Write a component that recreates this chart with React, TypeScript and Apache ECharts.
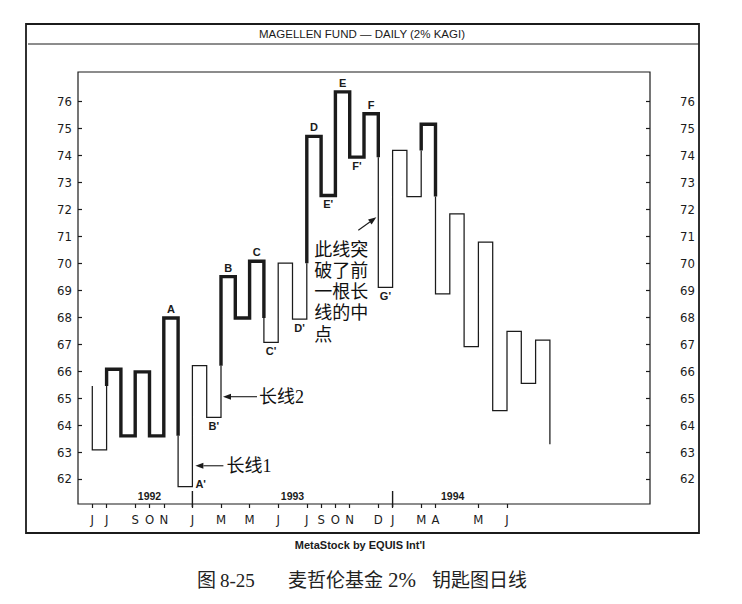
import React, { useEffect, useRef } from "react";
import * as echarts from "echarts";

// ---------- data ----------
const startPrice = 65.45;
const turnPrices = [
  63.08, 66.07, 63.6, 65.97, 63.6, 67.97, 61.72, 66.2, 64.28, 69.5, 67.97,
  70.07, 67.06, 70.0, 67.93, 74.7, 72.51, 76.35, 73.93, 75.54, 69.1, 74.18,
  72.47, 75.15, 68.86, 71.83, 66.91, 70.78, 64.53, 67.47, 65.54, 67.15, 63.29,
];

const pointLabels = ["A", "A'", "B'", "B", "C", "C'", "D'", "D", "E'", "E", "F'", "F", "G'"];
const pointLabelTurns = [5, 6, 8, 9, 11, 12, 14, 15, 16, 17, 18, 19, 20];

const monthLabels = ["J", "J", "S", "O", "N", "J", "M", "M", "J", "J", "S", "O", "N", "D", "J", "M", "A", "M", "J"];
const monthSlots = [0, 1, 3, 4, 5, 7, 9, 11, 13, 15, 16, 17, 18, 20, 21, 23, 24, 27, 29];

const yearLabels = ["1992", "1993", "1994"];
const yearSlots = [4.0, 14.0, 25.2];
const yearDividerSlots = [7, 21];

const priceTicks = [62, 63, 64, 65, 66, 67, 68, 69, 70, 71, 72, 73, 74, 75, 76];

const annotationTexts = ["长线1", "长线2", "此线突\n破了前\n一根长\n线的中\n点"];
const annotationLines = [7, 9, 20];
const annotationPrices = [62.49, 65.05, 71.7];

const titleText = "MAGELLEN FUND — DAILY (2% KAGI)";
const sourceText = "MetaStock by EQUIS Int'l";
const captionParts = ["图", "8-25", "麦哲伦基金", "2%", "钥匙图日线"];

// ---------- style constants ----------
const INK = "#1b1b1b";
const Y_MIN = 61.073;
const Y_MAX = 77.086;
const X_MIN = -1;
const X_MAX = 39;
const NARROW = "'DejaVu Sans Condensed', 'Liberation Sans Narrow', 'DejaVu Sans', sans-serif";
const SANS = "'Liberation Sans', Arial, sans-serif";
const CJK = "'Liberation Serif', 'Noto Sans CJK SC', serif";

type Run = { thick: boolean; pts: number[][] };

function buildKagiRuns(start: number, turns: number[]): Run[] {
  const segs: { a: number[]; b: number[]; thick: boolean }[] = [];
  let thick = false;
  let prev = start;
  for (let i = 0; i < turns.length; i++) {
    const p = turns[i];
    if (i > 0) segs.push({ a: [i - 1, prev], b: [i, prev], thick });
    const ref = i >= 2 ? turns[i - 2] : i === 1 ? start : null;
    const up = p > prev;
    if (ref !== null && up && !thick && p > ref) {
      if (ref > prev) segs.push({ a: [i, prev], b: [i, ref], thick: false });
      segs.push({ a: [i, Math.max(ref, prev)], b: [i, p], thick: true });
      thick = true;
    } else if (ref !== null && !up && thick && p < ref) {
      if (ref < prev) segs.push({ a: [i, prev], b: [i, ref], thick: true });
      segs.push({ a: [i, Math.min(ref, prev)], b: [i, p], thick: false });
      thick = false;
    } else {
      segs.push({ a: [i, prev], b: [i, p], thick });
    }
    prev = p;
  }
  const runs: Run[] = [];
  for (const s of segs) {
    const last = runs[runs.length - 1];
    if (last && last.thick === s.thick) last.pts.push(s.b);
    else runs.push({ thick: s.thick, pts: [s.a, s.b] });
  }
  return runs;
}

const annotationLayout = [
  { tipDx: 3, tailDx: 28, tailDy: 0, textDx: 31, textDy: 0, lines: 1 },
  { tipDx: 2, tailDx: 34, tailDy: 0, textDx: 36, textDy: 0, lines: 1 },
  { tipDx: -2, tailDx: -18, tailDy: 13, textDx: -62, textDy: 22, lines: 5 },
];

export default function App() {
  const ref = useRef<HTMLDivElement>(null);

  useEffect(() => {
    if (!ref.current) return;
    const chart = echarts.init(ref.current, undefined, { renderer: "svg" });
    const runs = buildKagiRuns(startPrice, turnPrices);

    const yAxisBase = (position: string, margin: number) => ({
      type: "value",
      position,
      min: Y_MIN,
      max: Y_MAX,
      axisLine: { show: false, onZero: false },
      splitLine: { show: false },
      axisTick: {
        show: true,
        inside: true,
        length: 4,
        customValues: priceTicks,
        lineStyle: { color: INK, width: 1.2 },
      },
      axisLabel: {
        customValues: priceTicks,
        margin,
        fontFamily: NARROW,
        fontSize: 13,
        color: INK,
      },
    });

    const option: any = {
      animation: false,
      backgroundColor: "#ffffff",
      grid: {
        left: 78,
        top: 72,
        width: 572,
        height: 432,
        show: true,
        borderColor: INK,
        borderWidth: 1.2,
        containLabel: false,
        outerBoundsMode: "none",
      },
      xAxis: {
        type: "value",
        min: X_MIN,
        max: X_MAX,
        axisLine: { show: false, onZero: false },
        splitLine: { show: false },
        axisTick: {
          show: true,
          customValues: monthSlots,
          length: 4,
          lineStyle: { color: INK, width: 1.2 },
        },
        axisLabel: {
          customValues: monthSlots,
          formatter: (v: number) => monthLabels[monthSlots.indexOf(v)] ?? "",
          margin: 9,
          fontFamily: NARROW,
          fontSize: 13,
          color: INK,
        },
      },
      yAxis: [yAxisBase("left", 6), yAxisBase("right", 30)],
      series: [
        {
          type: "custom",
          name: "kagi",
          coordinateSystem: "cartesian2d",
          xAxisIndex: 0,
          yAxisIndex: 0,
          silent: true,
          z: 3,
          data: runs.map((r) => [r.pts[0][0], r.pts[0][1]]),
          encode: { x: 0, y: 1 },
          renderItem: (params: any, api: any) => {
            const run = runs[params.dataIndex];
            return {
              type: "polyline",
              shape: { points: run.pts.map((p) => api.coord(p)) },
              style: {
                stroke: INK,
                fill: "none",
                lineWidth: run.thick ? 3.4 : 1.25,
                lineJoin: "miter",
              },
            };
          },
        },
        {
          type: "custom",
          name: "pointLabels",
          coordinateSystem: "cartesian2d",
          silent: true,
          z: 4,
          data: pointLabelTurns.map((t) => [t, turnPrices[t]]),
          encode: { x: 0, y: 1 },
          renderItem: (params: any, api: any) => {
            const k = params.dataIndex;
            const t = pointLabelTurns[k];
            const p = turnPrices[t];
            const prev = t > 0 ? turnPrices[t - 1] : startPrice;
            const isPeak = p > prev;
            const baseStyle = {
              text: pointLabels[k],
              fill: INK,
              fontSize: 11,
              fontWeight: "bold",
              fontFamily: SANS,
            };
            if (!isPeak && p - Y_MIN < 1) {
              const c = api.coord([t + 1, p]);
              return {
                type: "text",
                x: c[0] + 3,
                y: c[1] - 3,
                style: { ...baseStyle, align: "left", verticalAlign: "middle" },
              };
            }
            const c = api.coord([t + 0.5, p]);
            return {
              type: "text",
              x: c[0],
              y: c[1] + (isPeak ? -9 : 9),
              style: { ...baseStyle, align: "center", verticalAlign: "middle" },
            };
          },
        },
        {
          type: "custom",
          name: "years",
          coordinateSystem: "cartesian2d",
          silent: true,
          z: 4,
          data: yearSlots.map((s) => [s, Y_MIN]),
          encode: { x: 0, y: 1 },
          renderItem: (params: any, api: any) => {
            const k = params.dataIndex;
            const c = api.coord([yearSlots[k], Y_MIN]);
            const children: any[] = [
              {
                type: "text",
                x: c[0],
                y: c[1] - 8,
                style: {
                  text: yearLabels[k],
                  fill: INK,
                  fontSize: 10.5,
                  fontWeight: "bold",
                  fontFamily: SANS,
                  align: "center",
                  verticalAlign: "middle",
                },
              },
            ];
            if (k < yearDividerSlots.length) {
              const d = api.coord([yearDividerSlots[k], Y_MIN]);
              children.push({
                type: "line",
                shape: { x1: d[0], y1: d[1] - 13, x2: d[0], y2: d[1] + 3 },
                style: { stroke: INK, lineWidth: 1.4 },
              });
            }
            return { type: "group", children };
          },
        },
        {
          type: "custom",
          name: "annotations",
          coordinateSystem: "cartesian2d",
          silent: true,
          z: 5,
          data: annotationLines.map((l, i) => [l, annotationPrices[i]]),
          encode: { x: 0, y: 1 },
          renderItem: (params: any, api: any) => {
            const k = params.dataIndex;
            const L = annotationLayout[k];
            const c = api.coord([annotationLines[k], annotationPrices[k]]);
            const tip = [c[0] + L.tipDx, c[1]];
            const tail = [tip[0] + L.tailDx, tip[1] + L.tailDy];
            const dx = tip[0] - tail[0];
            const dy = tip[1] - tail[1];
            const len = Math.sqrt(dx * dx + dy * dy);
            const ux = dx / len;
            const uy = dy / len;
            const hl = 8;
            const hw = 3;
            const bx = tip[0] - ux * hl;
            const by = tip[1] - uy * hl;
            const lineH = 21.2;
            return {
              type: "group",
              children: [
                {
                  type: "line",
                  shape: { x1: tail[0], y1: tail[1], x2: bx, y2: by },
                  style: { stroke: INK, lineWidth: 1.1 },
                },
                {
                  type: "polygon",
                  shape: {
                    points: [
                      tip,
                      [bx - uy * hw, by + ux * hw],
                      [bx + uy * hw, by - ux * hw],
                    ],
                  },
                  style: { fill: INK, stroke: "none" },
                },
                {
                  type: "text",
                  x: tip[0] + L.textDx,
                  y: L.lines > 1 ? tip[1] + L.textDy : tip[1],
                  style: {
                    text: annotationTexts[k],
                    fill: "#111",
                    fontSize: 18,
                    fontFamily: CJK,
                    lineHeight: lineH,
                    align: "left",
                    verticalAlign: L.lines > 1 ? "top" : "middle",
                  },
                },
              ],
            };
          },
        },
      ],
      graphic: [
        {
          type: "rect",
          shape: { x: 26, y: 24, width: 673, height: 509 },
          style: { fill: "none", stroke: INK, lineWidth: 1.8 },
          silent: true,
        },
        {
          type: "line",
          shape: { x1: 28, y1: 44, x2: 699, y2: 44 },
          style: { stroke: INK, lineWidth: 1 },
          silent: true,
        },
        {
          type: "text",
          x: 362,
          y: 34,
          style: {
            text: titleText,
            fill: INK,
            fontSize: 11.5,
            fontFamily: SANS,
            align: "center",
            verticalAlign: "middle",
          },
        },
        {
          type: "text",
          x: 360,
          y: 545,
          style: {
            text: sourceText,
            fill: INK,
            fontSize: 11,
            fontWeight: "bold",
            fontFamily: SANS,
            align: "center",
            verticalAlign: "middle",
          },
        },
        ...[197, 220, 288, 388, 432].map((x, i) => ({
          type: "text",
          x,
          y: 580,
          style: {
            text: captionParts[i],
            fill: "#222",
            fontSize: i === 3 ? 21 : 19,
            fontFamily: CJK,
            align: "left",
            verticalAlign: "middle",
          },
        })),
      ],
    };

    chart.setOption(option);
    return () => chart.dispose();
  }, []);

  return (
    <div
      ref={ref}
      style={{ position: "absolute", left: 0, top: 0, width: 742, height: 604, background: "#fff" }}
    />
  );
}
